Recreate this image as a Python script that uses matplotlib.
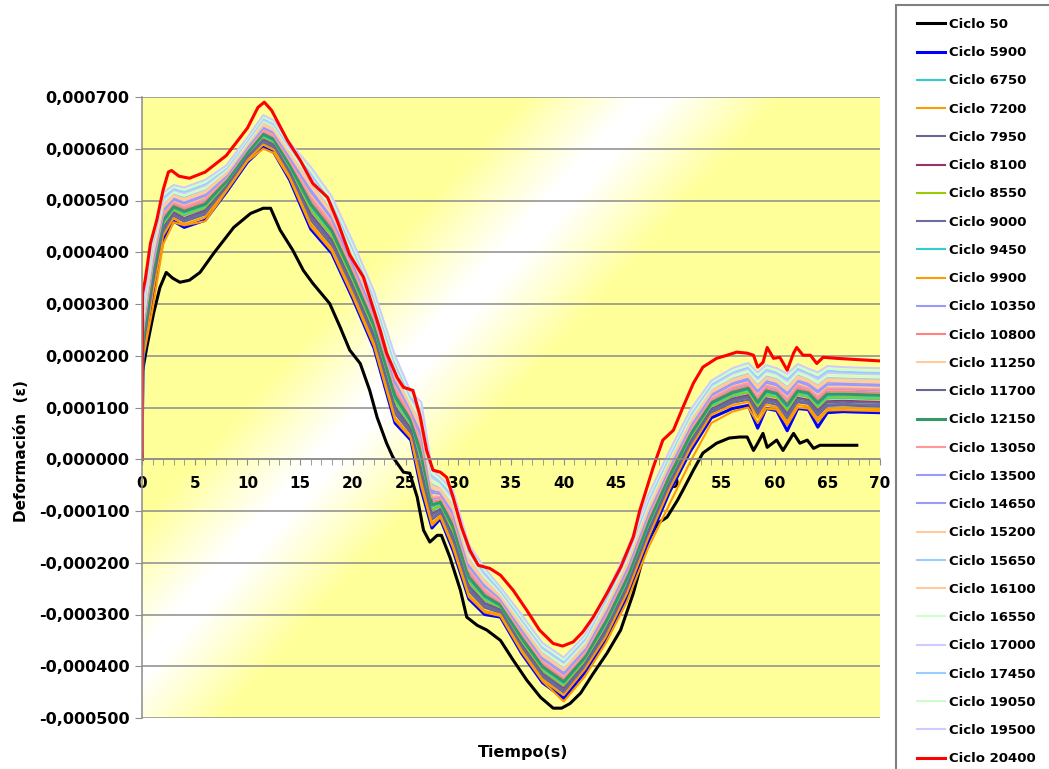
import numpy as np
import matplotlib
matplotlib.use("Agg")
import matplotlib.pyplot as plt
from matplotlib.ticker import FuncFormatter, MultipleLocator
from matplotlib.patches import Rectangle

plt.rcParams["font.family"] = ["DejaVu Sans"]
plt.rcParams["font.weight"] = "bold"

# tiempo (s) de los ciclos intermedios
t_mid = [0, 0.1, 1, 2, 3, 4, 6, 8, 10, 11.5, 12.5, 14, 16, 18, 20, 22, 24, 25.5, 26.5, 27.5,
         28.3, 29.5, 31, 32.5, 34, 36, 38, 40, 42, 44, 46, 48, 50, 52, 54, 56, 57.5, 58.4, 59.2, 60.2,
         61.2, 62.2, 63.2, 64.1, 65, 66.5, 68, 70]

# deformaciones en microdeformacion (x1e-6)
t_50 = [0, 0.05, 0.45, 1.1, 1.7, 2.3, 2.9, 3.6, 4.5, 5.5, 6.8, 8.7, 10.3, 11.5, 12.2, 13.1, 14.3, 15.3,
        16.2, 17.8, 18.8, 19.7, 20.7, 21.6, 22.3, 23.2, 23.8, 24.8, 25.4, 26.1, 26.7, 27.3, 28.0, 28.4,
        29.2, 30.2, 30.8, 31.8, 32.7, 34, 35.2, 36.5, 37.8, 39, 39.8, 40.6, 41.6, 42.8, 44.1, 45.4,
        46.6, 47.9, 48.9, 49.8, 50.8, 51.3, 52.3, 53.2, 54.5, 55.7, 56.7, 57.4, 58, 58.4, 58.9, 59.3,
        60.2, 60.8, 61.8, 62.4, 63.1, 63.7, 64.3, 65.9, 67.5, 67.8]
c50 = [0, 170, 216, 282, 332, 361, 350, 342, 346, 361, 398, 448, 475, 485, 485, 443, 404, 365,
       340, 301, 255, 211, 185, 133, 81, 31, 4, -25, -27, -73, -137, -160, -147, -147,
       -189, -253, -305, -321, -330, -350, -388, -427, -460, -481, -481, -472, -452, -414, -375, -330,
       -259, -162, -124, -112, -79, -60, -21, 12, 31, 41, 43, 43, 17, 31, 50, 23,
       37, 17, 50, 31, 37, 21, 27, 27, 27, 27]

t_20400 = [0, 0.05, 0.3, 0.8, 1.4, 2.0, 2.5, 2.8, 3.5, 4.5, 6, 8, 10, 11, 11.6, 12.3, 13.8, 15,
           16.2, 17.6, 18.5, 19.7, 21, 21.6, 22.6, 23.2, 24.2, 24.8, 25.7, 26.4, 27, 27.6, 28.3,
           28.9, 29.5, 30.3, 31.1, 31.9, 33, 34, 35.2, 36.5, 37.7, 39, 39.9, 40.9, 41.8, 42.8,
           44.1, 45.4, 46.6, 47.2, 48.5, 49.4, 50.4, 51.3, 52.3, 53.2, 54.5, 55.5, 56.4, 57.4,
           58, 58.4, 58.9, 59.3, 59.9, 60.5, 61.2, 61.8, 62.1, 62.7, 63.4, 64.0, 64.6, 65.9, 67.5, 70]
c20400 = [0, 320, 346, 417, 462, 520, 555, 558, 547, 543, 555, 587, 640, 680, 690, 674, 616, 578,
          533, 506, 462, 395, 352, 313, 249, 205, 158, 139, 133, 81, 17, -21, -25,
          -35, -73, -131, -176, -205, -211, -224, -253, -292, -330, -356, -361, -353, -334, -305,
          -259, -209, -150, -100, -15, 37, 56, 100, 147, 178, 195, 201, 207, 205,
          201, 178, 187, 216, 195, 197, 172, 205, 216, 201, 201, 185, 197, 195, 193, 190]

c5900 = [0, 190, 310, 425, 460, 448, 462, 516, 574, 603, 593, 540, 445, 398, 310, 215, 70, 37, -60, -133,
         -115, -176, -270, -300, -305, -375, -432, -462, -412, -350, -266, -160, -65, 15, 80, 98, 104, 60, 98, 94,
         55, 98, 96, 62, 90, 92, 91, 90]
c6750 = [0, 223, 346, 452, 481, 471, 485, 532, 588, 622, 612, 562, 481, 431, 343, 248, 109, 65, -9, -99,
         -91, -141, -239, -273, -288, -353, -409, -438, -390, -323, -239, -133, -41, 39, 102, 121, 129, 101, 123, 119,
         94, 124, 120, 99, 117, 118, 117, 116]
c7200 = [0, 194, 290, 415, 458, 452, 460, 518, 576, 600, 592, 543, 450, 402, 314, 219, 75, 41, -53, -128,
         -112, -171, -266, -296, -303, -372, -429, -468, -420, -355, -275, -172, -88, -5, 70, 92, 100, 70, 98, 96,
         66, 100, 98, 72, 94, 95, 94, 93]
c7950 = [0, 205, 327, 438, 470, 459, 473, 523, 581, 612, 602, 550, 462, 413, 325, 230, 88, 50, -36, -117,
         -104, -160, -255, -287, -297, -365, -421, -451, -402, -337, -253, -147, -54, 26, 90, 109, 115, 85, 110, 105,
         78, 110, 107, 84, 103, 104, 103, 102]
c8100 = [0, 216, 339, 447, 477, 466, 481, 528, 586, 618, 608, 557, 474, 424, 336, 241, 101, 59, -19, -106,
         -96, -148, -245, -278, -291, -357, -414, -443, -395, -328, -244, -138, -46, 34, 97, 117, 124, 95, 118, 114,
         88, 119, 115, 94, 112, 113, 112, 111]
c8550 = [0, 225, 348, 454, 482, 473, 487, 533, 589, 623, 613, 563, 483, 433, 345, 250, 112, 67, -6, -97,
         -89, -139, -236, -271, -286, -351, -407, -437, -389, -321, -237, -131, -39, 41, 103, 123, 130, 103, 125, 120,
         96, 126, 121, 101, 119, 120, 119, 118]
c9000 = [0, 210, 332, 441, 473, 462, 476, 525, 583, 614, 604, 553, 467, 418, 330, 235, 93, 54, -29, -113,
         -101, -155, -251, -284, -295, -362, -418, -448, -399, -334, -250, -144, -51, 29, 93, 112, 119, 89, 113, 109,
         82, 113, 110, 88, 106, 107, 106, 105]
c9450 = [0, 230, 353, 457, 485, 476, 490, 535, 591, 625, 615, 566, 488, 438, 350, 255, 117, 70, 1, -92,
         -86, -134, -232, -268, -284, -348, -404, -434, -386, -318, -234, -128, -36, 44, 106, 126, 134, 107, 128, 124,
         100, 129, 124, 105, 122, 123, 122, 121]
c9900 = [0, 199, 320, 432, 466, 454, 468, 520, 578, 608, 598, 546, 455, 407, 319, 224, 80, 44, -46, -124,
         -109, -167, -262, -293, -300, -369, -426, -456, -406, -343, -259, -153, -59, 21, 86, 104, 111, 80, 105, 101,
         72, 105, 102, 78, 97, 99, 98, 97]
c10350 = [0, 245, 370, 470, 495, 487, 501, 542, 598, 634, 624, 576, 505, 453, 365, 270, 135, 84, 25, -77,
          -75, -118, -218, -255, -276, -338, -394, -423, -376, -305, -221, -115, -25, 55, 116, 137, 145, 120, 140, 135,
          115, 141, 136, 119, 135, 135, 134, 133]
c10800 = [0, 240, 364, 466, 492, 483, 497, 539, 596, 631, 621, 572, 499, 448, 360, 265, 129, 79, 17, -82,
          -79, -124, -223, -260, -279, -341, -397, -426, -380, -310, -226, -120, -29, 51, 112, 133, 141, 115, 136, 131,
          109, 137, 132, 114, 131, 131, 130, 129]
c11250 = [0, 252, 377, 475, 499, 491, 506, 545, 601, 638, 628, 580, 512, 460, 372, 277, 143, 89, 35, -70,
          -70, -111, -211, -250, -273, -333, -389, -418, -372, -300, -216, -110, -20, 60, 120, 142, 150, 126, 145, 140,
          121, 146, 140, 125, 140, 140, 139, 138]
c11700 = [0, 214, 336, 445, 475, 465, 479, 527, 585, 617, 607, 556, 471, 422, 334, 239, 99, 57, -23, -108,
          -97, -150, -247, -280, -292, -359, -415, -445, -396, -330, -246, -140, -47, 33, 96, 115, 122, 93, 116, 112,
          86, 117, 113, 92, 110, 111, 110, 109]
c12150 = [0, 234, 358, 461, 488, 479, 493, 537, 593, 628, 618, 569, 493, 442, 354, 259, 122, 74, 8, -88,
          -83, -130, -228, -264, -282, -345, -401, -430, -383, -314, -230, -124, -33, 47, 109, 129, 137, 110, 132, 127,
          104, 132, 128, 109, 126, 126, 125, 124]
c13050 = [0, 247, 372, 472, 496, 488, 503, 543, 599, 635, 625, 577, 507, 455, 367, 272, 138, 85, 28, -74,
          -73, -116, -215, -253, -275, -336, -392, -421, -375, -303, -219, -113, -23, 57, 117, 139, 147, 122, 142, 137,
          117, 143, 137, 121, 137, 137, 136, 135]
c13500 = [0, 256, 382, 479, 502, 494, 509, 547, 603, 640, 630, 583, 517, 464, 376, 281, 148, 93, 42, -65,
          -67, -106, -207, -246, -270, -330, -386, -415, -369, -296, -212, -106, -17, 63, 123, 145, 153, 130, 148, 143,
          125, 150, 143, 129, 144, 144, 143, 142]
c14650 = [0, 260, 387, 483, 505, 497, 512, 549, 605, 643, 633, 586, 522, 468, 380, 285, 153, 97, 49, -61,
          -64, -102, -203, -242, -268, -327, -383, -411, -366, -292, -208, -102, -14, 66, 126, 148, 156, 133, 152, 146,
          129, 153, 147, 133, 148, 147, 146, 145]
c15200 = [0, 265, 392, 486, 508, 500, 515, 551, 607, 645, 635, 589, 527, 473, 385, 290, 158, 100, 56, -56,
          -61, -97, -199, -239, -266, -324, -380, -408, -363, -289, -205, -99, -11, 69, 129, 151, 160, 137, 155, 150,
          133, 156, 150, 137, 151, 150, 149, 148]
c15650 = [0, 271, 399, 492, 512, 505, 520, 554, 610, 649, 639, 593, 534, 479, 391, 296, 166, 106, 66, -49,
          -56, -90, -192, -233, -262, -320, -375, -404, -359, -283, -199, -93, -6, 74, 133, 156, 165, 143, 160, 155,
          139, 162, 154, 143, 157, 156, 155, 154]
c16100 = [0, 269, 396, 490, 510, 503, 518, 553, 609, 648, 638, 592, 531, 477, 389, 294, 164, 104, 62, -52,
          -57, -92, -194, -235, -263, -321, -377, -405, -360, -285, -201, -95, -7, 73, 132, 154, 163, 141, 158, 153,
          137, 160, 153, 141, 155, 154, 153, 152]
c16550 = [0, 278, 406, 497, 516, 510, 524, 558, 612, 653, 643, 598, 541, 486, 398, 303, 174, 111, 76, -43,
          -51, -83, -186, -228, -259, -315, -370, -399, -354, -278, -194, -88, -1, 79, 138, 160, 170, 149, 165, 160,
          145, 167, 159, 148, 162, 161, 160, 159]
c17000 = [0, 285, 413, 502, 520, 514, 529, 561, 615, 656, 646, 602, 548, 493, 405, 310, 182, 117, 86, -36,
          -46, -76, -180, -223, -255, -311, -366, -394, -350, -273, -189, -83, 4, 84, 142, 165, 175, 155, 170, 165,
          151, 172, 164, 154, 167, 166, 165, 164]
c17450 = [0, 289, 418, 506, 523, 517, 532, 563, 617, 659, 649, 605, 553, 497, 409, 314, 187, 121, 93, -31,
          -43, -72, -176, -219, -253, -308, -363, -391, -347, -269, -185, -79, 7, 87, 145, 168, 178, 158, 174, 168,
          155, 175, 167, 158, 171, 169, 168, 167]
c19050 = [0, 293, 423, 510, 526, 520, 535, 565, 619, 661, 651, 608, 558, 501, 413, 318, 192, 124, 100, -27,
          -40, -67, -171, -215, -250, -305, -360, -388, -344, -265, -181, -75, 10, 90, 148, 171, 181, 162, 177, 171,
          159, 179, 170, 162, 175, 173, 172, 171]
c19500 = [0, 300, 430, 515, 530, 525, 540, 568, 622, 665, 655, 612, 565, 508, 420, 325, 200, 130, 110, -20,
          -35, -60, -165, -210, -247, -300, -355, -383, -340, -260, -176, -70, 15, 95, 152, 176, 186, 168, 182, 176,
          165, 184, 175, 168, 180, 178, 177, 176]

# (etiqueta, tiempos, valores, color, grosor)
series = [
    ("Ciclo 50", t_50, c50, "#000000", 2.2),
    ("Ciclo 5900", t_mid, c5900, "#0000FF", 2.2),
    ("Ciclo 6750", t_mid, c6750, "#33CCCC", 1.5),
    ("Ciclo 7200", t_mid, c7200, "#FF9900", 1.5),
    ("Ciclo 7950", t_mid, c7950, "#666699", 1.5),
    ("Ciclo 8100", t_mid, c8100, "#993366", 1.5),
    ("Ciclo 8550", t_mid, c8550, "#99CC00", 1.5),
    ("Ciclo 9000", t_mid, c9000, "#6E6E9E", 1.5),
    ("Ciclo 9450", t_mid, c9450, "#33CCCC", 1.5),
    ("Ciclo 9900", t_mid, c9900, "#FF9900", 1.5),
    ("Ciclo 10350", t_mid, c10350, "#9999FF", 1.5),
    ("Ciclo 10800", t_mid, c10800, "#FF8080", 1.5),
    ("Ciclo 11250", t_mid, c11250, "#FFCC99", 1.5),
    ("Ciclo 11700", t_mid, c11700, "#666699", 1.5),
    ("Ciclo 12150", t_mid, c12150, "#339966", 2.2),
    ("Ciclo 13050", t_mid, c13050, "#FF9999", 1.5),
    ("Ciclo 13500", t_mid, c13500, "#9999FF", 1.5),
    ("Ciclo 14650", t_mid, c14650, "#9999FF", 1.5),
    ("Ciclo 15200", t_mid, c15200, "#FFCC99", 1.5),
    ("Ciclo 15650", t_mid, c15650, "#99CCFF", 1.5),
    ("Ciclo 16100", t_mid, c16100, "#FFCC99", 1.5),
    ("Ciclo 16550", t_mid, c16550, "#CCFFCC", 1.5),
    ("Ciclo 17000", t_mid, c17000, "#CCCCFF", 1.5),
    ("Ciclo 17450", t_mid, c17450, "#99CCFF", 1.5),
    ("Ciclo 19050", t_mid, c19050, "#CCFFCC", 1.5),
    ("Ciclo 19500", t_mid, c19500, "#CCCCFF", 1.5),
    ("Ciclo 20400", t_20400, c20400, "#FF0000", 2.2),
]

W, H = 1049, 769
fig = plt.figure(figsize=(W / 100, H / 100), dpi=100)
fig.patch.set_facecolor("white")
ax = fig.add_axes([142 / W, 51 / H, 738 / W, 621 / H])
ax.patch.set_visible(False)

x0, x1, y0, y1 = 0, 70, -0.0005, 0.0007

# fondo degradado amarillo-blanco-amarillo en diagonal, colocado en pixeles
nx, ny = 738, 621
xs = 142 + np.arange(nx) + 0.5
ys = 97 + np.arange(ny) + 0.5
GX, GY = np.meshgrid(xs, ys)
dist = GX - (650 - 0.9 * (GY - 100))
frac = np.clip((np.abs(dist) - 15) / 115, 0, 1)[..., None]
yellow = np.array([1.0, 1.0, 0.6])
bg = (1 - frac) * np.ones(3) + frac * yellow
fig.figimage(bg, xo=142, yo=H - 718, origin="upper", zorder=-1)

for label, tt, vals, col, lw in series:
    ax.plot(tt, np.array(vals) * 1e-6, color=col, lw=lw, label=label, zorder=2,
            solid_joinstyle="round")

ax.set_xlim(x0, x1)
ax.set_ylim(y0, y1)
ax.set_axisbelow(True)
ax.yaxis.grid(True, color="#8c8c8c", lw=1.1)
ax.xaxis.grid(False)

for s in ["top", "right"]:
    ax.spines[s].set_visible(False)
ax.spines["bottom"].set_position(("data", 0))
ax.spines["bottom"].set_color("#8c8c8c")
ax.spines["left"].set_color("#8c8c8c")
ax.spines["bottom"].set_linewidth(1.1)
ax.spines["left"].set_linewidth(1.1)

ax.xaxis.set_major_locator(MultipleLocator(5))
ax.xaxis.set_minor_locator(MultipleLocator(1))
ax.yaxis.set_major_locator(MultipleLocator(0.0001))


def fmt_y(v, pos):
    s = f"{abs(v):.6f}".replace(".", ",")
    return ("-" if v < -1e-12 else "") + s


ax.yaxis.set_major_formatter(FuncFormatter(fmt_y))
ax.tick_params(axis="x", which="both", direction="out", length=4, color="#8c8c8c",
               labelsize=11, pad=8)
ax.tick_params(axis="y", which="major", direction="out", length=5, color="#8c8c8c",
               labelsize=11.5, pad=4)
for lab in ax.get_xticklabels() + ax.get_yticklabels():
    lab.set_fontweight("bold")

fig.text(523 / W, 1 - 752 / H, "Tiempo(s)", ha="center", va="center",
         fontsize=11.5, fontweight="bold")
fig.text(22 / W, 1 - 451 / H, "Deformación  (ε)", ha="center", va="center",
         rotation=90, fontsize=11, fontweight="bold")

# marco de la leyenda (cortado por el borde)
frame = Rectangle((896 / W, -0.1), 0.3, 1.1 - 5 / H, transform=fig.transFigure,
                  facecolor="white", edgecolor="#808080", lw=1.5, zorder=1)
fig.add_artist(frame)
leg = fig.legend(loc="upper left", bbox_to_anchor=(917 / W, 1 - 18 / H),
                 frameon=False, fontsize=9.5, labelspacing=1.155, handlelength=2.1,
                 handletextpad=0.3, borderpad=0, borderaxespad=0)
leg.set_zorder(3)
for txt in leg.get_texts():
    txt.set_fontweight("bold")

fig.savefig("out.png", dpi=100)
